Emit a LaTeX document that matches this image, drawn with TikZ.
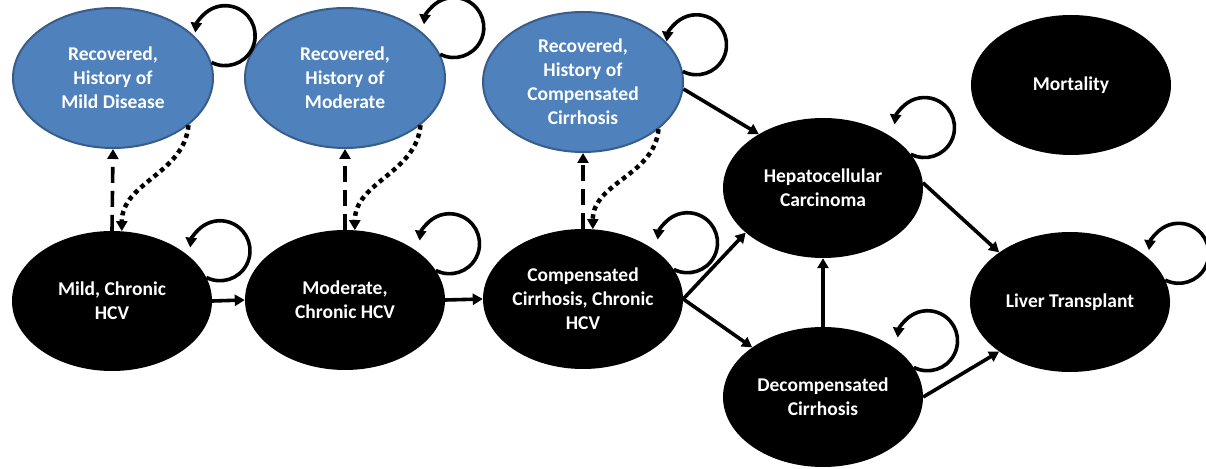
\documentclass[tikz,border=0pt]{standalone}
\usepackage{fontspec}
\setmainfont{Carlito}
\usetikzlibrary{shapes.geometric,arrows.meta}
\definecolor{recblue}{RGB}{79,129,189}
\definecolor{recline}{RGB}{56,93,138}
\tikzset{
	hcvnode/.style={ellipse, minimum width=200pt, minimum height=140pt, inner sep=0pt, align=center, text=white, font=\bfseries\fontsize{19.5}{24}\selectfont},
	chronic/.style={hcvnode, fill=black},
	recovered/.style={hcvnode, fill=recblue, draw=recline, line width=2pt},
	arrow/.style={line width=3.6pt, -{Triangle[length=10pt,width=11pt]}},
	selfloop/.style={arrow},
	dasharrow/.style={arrow, dash pattern=on 16pt off 8pt},
	dotarrow/.style={arrow, line width=4.5pt, dash pattern=on 4.5pt off 4pt}
}
\begin{document}
\begin{tikzpicture}[x=1pt,y=1pt]
	\useasboundingbox (0,0) rectangle (1206,468);
	\node[recovered] (r1) at (113,390) {Recovered,\\History of\\Mild Disease};
	\node[recovered] (r2) at (345,390) {Recovered,\\History of\\Moderate};
	\node[recovered] (r3) at (583,386) {Recovered,\\History of\\Compensated\\Cirrhosis};
	\node[chronic] (mort) at (1071,383) {Mortality};
	\node[chronic] (mild) at (112,167) {Mild, Chronic\\HCV};
	\node[chronic] (mod) at (345,168) {Moderate,\\Chronic HCV};
	\node[chronic] (comp) at (583,169) {Compensated\\Cirrhosis, Chronic\\HCV};
	\node[chronic] (hcc) at (823,280) {Hepatocellular\\Carcinoma};
	\node[chronic] (decomp) at (823,71) {Decompensated\\Cirrhosis};
	\node[chronic] (lt) at (1070,166) {Liver Transplant};

	\draw[selfloop] (r1.9) arc[start angle=243, end angle=534, radius=30];
	\draw[selfloop] (r2.14) arc[start angle=243, end angle=534, radius=30];
	\draw[selfloop] (r3.6) arc[start angle=243, end angle=534, radius=30];
	\draw[selfloop] (mild.14) arc[start angle=243, end angle=534, radius=30];
	\draw[selfloop] (mod.18) arc[start angle=243, end angle=534, radius=30];
	\draw[selfloop] (comp.18) arc[start angle=243, end angle=534, radius=30];
	\draw[selfloop] (hcc.21) arc[start angle=243, end angle=534, radius=30];
	\draw[selfloop] (decomp.18) arc[start angle=243, end angle=534, radius=30];
	\draw[selfloop] (lt.13) arc[start angle=243, end angle=534, radius=30];

	\draw[dasharrow] (mild.north) -- (r1.south);
	\draw[dasharrow] (mod.north) -- (r2.south);
	\draw[dasharrow] (comp.north) -- (r3.south);
	\draw[dotarrow] (r1.-32) to[out=-95, in=90] (mild.82);
	\draw[dotarrow] (r2.-32) to[out=-95, in=90] (mod.82);
	\draw[dotarrow] (r3.-32) to[out=-95, in=90] (comp.82);

	\draw[arrow] (mild.east) -- (mod.west);
	\draw[arrow] (mod.east) -- (comp.west);
	\draw[arrow] (comp.east) -- (hcc.210);
	\draw[arrow] (comp.east) -- (decomp.145);
	\draw[arrow] (r3.-4) -- (hcc.140);
	\draw[arrow] (decomp.north) -- (hcc.south);
	\draw[arrow] (hcc.3) -- (lt.145);
	\draw[arrow] (decomp.east) -- (lt.215);
\end{tikzpicture}
\end{document}
